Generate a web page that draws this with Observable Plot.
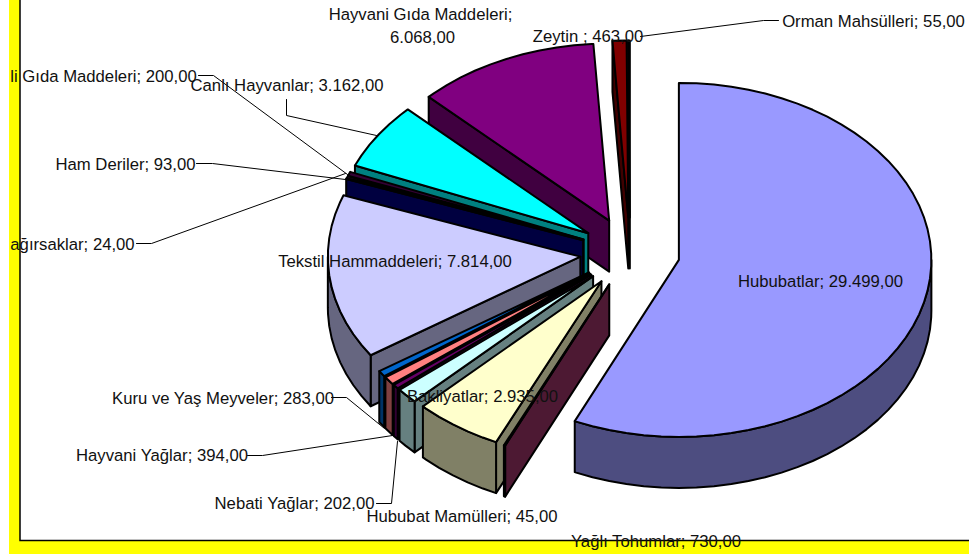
<!DOCTYPE html>
<html><head><meta charset="utf-8">
<style>html,body{margin:0;padding:0;background:#fff}svg{display:block}</style>
<script src="https://cdn.jsdelivr.net/npm/d3@7"></script>
<script src="https://cdn.jsdelivr.net/npm/@observablehq/plot@0.6"></script>
</head><body><div id="chart"></div>
<script>
const categories = ["Hububatlar","Hububat Mamülleri","Bakliyatlar","Yağlı Tohumlar","Nebati Yağlar","Hayvani Yağlar","Kuru ve Yaş Meyveler","Tekstil Hammaddeleri","Bağırsaklar","Ham Deriler","Çeşitli Gıda Maddeleri","Canlı Hayvanlar","Hayvani Gıda Maddeleri","Zeytin","Orman Mahsülleri"];
const values = [29499,45,2935,730,202,394,283,7814,24,93,200,3162,6068,463,55];
const topColors = ["#9999FF","#993366","#FFFFCC","#CCFFFF","#660066","#FF8080","#0066CC","#CCCCFF","#000080","#800080","#330033","#00FFFF","#800080","#800000","#008080"];
const sideColors = ["#4D4D80","#4D1933","#808066","#668080","#330033","#804040","#003366","#666680","#000040","#800080","#000000","#008080","#400040","#400000","#004040"];

const labelTexts = ["Hayvani Gıda Maddeleri;","6.068,00","Zeytin ; 463,00","Orman Mahsülleri; 55,00","li Gıda Maddeleri; 200,00","Canlı Hayvanlar; 3.162,00","Ham Deriler; 93,00","ağırsaklar; 24,00","Tekstil Hammaddeleri; 7.814,00","Hububatlar; 29.499,00","Bakliyatlar; 2.935,00","Kuru ve Yaş Meyveler; 283,00","Hayvani Yağlar; 394,00","Nebati Yağlar; 202,00","Hububat Mamülleri; 45,00","Yağlı Tohumlar; 730,00"];
const labelX = [420,422,587.5,873,103,286.5,125,72,394.5,820,482,222.5,161.5,294,461.5,655.5];
const labelY = [14,37,36,21,76,85,164,244,261,281,396,398,455,503,516,541];

const leaderNames = ["Orman","Gida","Canli","Ham","Bagirsak","Kuru","HayvaniY","Nebati"];
const leaderX = [[640,763,778],[198,213,347],[286,286,376],[196,212,345],[136,151,345],[331,346,384],[247,262,392],[376,391,397]];
const leaderY = [[36,20,20],[75,75,174],[99,115,135],[163,163,179],[243,243,173],[397,397,428],[455,455,435],[503,503,441]];

// pie layout
const cx = 629.5, cy = 252, rx = 252.5, ry = 177, explode = 50, depth = 51, step = 4;
const total = d3.sum(values);
const dirX = a => Math.sin(a * Math.PI / 180);
const dirY = a => -Math.cos(a * Math.PI / 180);
let running = 0;
const slices = values.map((v, i) => {
  const a0 = running / total * 360; running += v;
  const a1 = running / total * 360, mid = (a0 + a1) / 2;
  return {i, a0, a1, ox: cx + explode * dirX(mid), oy: cy + explode * (ry / rx) * dirY(mid)};
});
function arcAngles(a0, a1) {
  const out = [a0];
  for (let a = Math.ceil(a0 / step) * step; a < a1; a += step) if (a > a0) out.push(a);
  out.push(a1);
  return out;
}
const faces = [];
function addFace(id, color, pts) {
  pts.forEach(p => faces.push({id, color, x: p[0], y: p[1]}));
}
// back slices first, front slices last
[...slices].reverse().forEach(s => {
  const rim = a => [s.ox + rx * dirX(a), s.oy + ry * dirY(a)];
  const down = p => [p[0], p[1] + depth];
  const apex = [s.ox, s.oy];
  const side = sideColors[s.i];
  const wall = a => [apex, rim(a), down(rim(a)), down(apex)];
  if (s.a0 > 180) addFace(s.i + "-w0", side, wall(s.a0));
  if (s.a1 < 180) addFace(s.i + "-w1", side, wall(s.a1));
  const lo = Math.max(s.a0, 90), hi = Math.min(s.a1, 270);
  if (hi > lo) {
    const arc = arcAngles(lo, hi).map(rim);
    addFace(s.i + "-o", side, [...arc, ...arc.slice().reverse().map(down)]);
  }
  addFace(s.i + "-t", topColors[s.i], [apex, ...arcAngles(s.a0, s.a1).map(rim)]);
});
const labels = labelTexts.map((t, i) => ({t, x: labelX[i], y: labelY[i]}));
const leaders = leaderNames.flatMap((n, i) => leaderX[i].map((x, j) => ({n, x, y: leaderY[i][j]})));

const plot = Plot.plot({
  width: 969, height: 556, margin: 0,
  x: {domain: [0, 969], range: [0, 969], axis: null},
  y: {domain: [0, 556], range: [0, 556], axis: null},
  color: {type: "identity"},
  style: {background: "#fff"},
  marks: [
    Plot.rect([{a: 9, b: 969, c: 0, d: 554}], {x1: "a", x2: "b", y1: "c", y2: "d", fill: "#FFFF00"}),
    Plot.rect([{a: 20, b: 975, c: -5, d: 540.5}], {x1: "a", x2: "b", y1: "c", y2: "d", fill: "#fff", stroke: "#000", strokeWidth: 1.5}),
    Plot.line(faces, {x: "x", y: "y", z: "id", fill: "color", stroke: "#000", strokeWidth: 2, curve: "linear-closed"}),
    Plot.line(leaders, {x: "x", y: "y", z: "n", stroke: "#000", strokeWidth: 1, curve: "linear"}),
    Plot.text(labels, {x: "x", y: "y", text: "t", fontFamily: "Liberation Sans", fontSize: 16.7, fill: "#111"})
  ]
});
document.getElementById("chart").append(plot);
</script></body></html>
